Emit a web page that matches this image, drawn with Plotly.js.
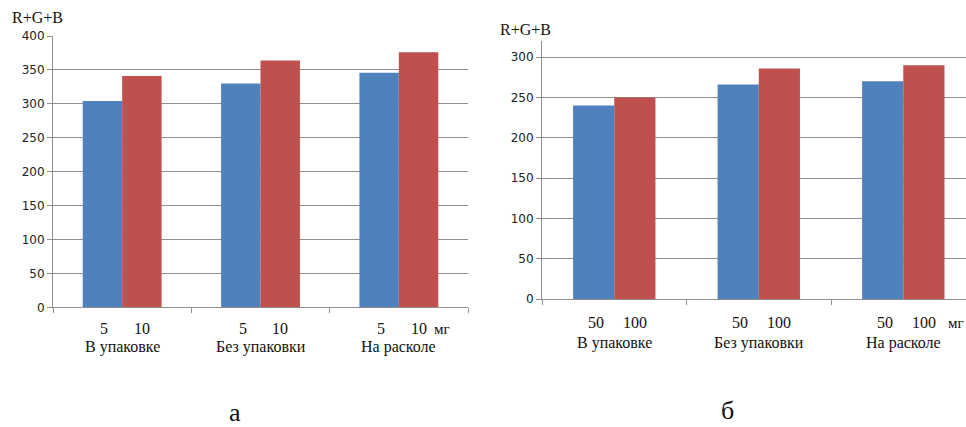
<!DOCTYPE html>
<html>
<head>
<meta charset="utf-8">
<script src="https://cdn.plot.ly/plotly-3.0.1.min.js"></script>
<style>html,body{margin:0;padding:0;background:#fff;}#chart{width:966px;height:427px;}</style>
</head>
<body>
<div id="chart"></div>
<script>
// ---- data ----
const groups = ["В упаковке", "Без упаковки", "На расколе"];
const dosesA = ["5", "10"];
const dosesB = ["50", "100"];
const seriesA5 = [304, 330, 346];
const seriesA10 = [341, 364, 376];
const seriesB50 = [240, 266, 270];
const seriesB100 = [250, 286, 290];
const yTitle = "R+G+B";
const unit = "мг";
const panelLabels = ["а", "б"];

const BLUE = "#4F81BD", RED = "#C0504D", GRID = "#8f8f8f";
const W = 966, H = 427;
const BARGAP = 0.43;
const off = (1 - BARGAP) / 4; // half bar width in category units

const idx = groups.map((g, i) => i);
const traces = [
  {type: "bar", x: idx, y: seriesA5, marker: {color: BLUE}, xaxis: "x", yaxis: "y", hoverinfo: "y"},
  {type: "bar", x: idx, y: seriesA10, marker: {color: RED}, xaxis: "x", yaxis: "y", hoverinfo: "y"},
  {type: "bar", x: idx, y: seriesB50, marker: {color: BLUE}, xaxis: "x2", yaxis: "y2", hoverinfo: "y"},
  {type: "bar", x: idx, y: seriesB100, marker: {color: RED}, xaxis: "x2", yaxis: "y2", hoverinfo: "y"}
];

const SERIF = "Liberation Serif";
const serif = {family: SERIF, size: 16, color: "#111"};
const tickFont = {family: "DejaVu Sans", size: 12, color: "#222"};

function xAxis(domain, range) {
  return {
    domain: domain, range: range, type: "linear",
    showgrid: false, zeroline: false,
    showline: true, linecolor: GRID, linewidth: 1,
    tickmode: "array", tickvals: [-0.5, 0.5, 1.5, 2.5], ticktext: ["", "", "", ""],
    ticks: "outside", ticklen: 5, tickcolor: GRID, showticklabels: false,
    fixedrange: true
  };
}
function yAxis(domain, range, anchor) {
  return {
    domain: domain, range: range, anchor: anchor,
    tick0: 0, dtick: 50,
    showgrid: true, gridcolor: GRID, gridwidth: 1,
    zeroline: false, showline: true, linecolor: GRID, linewidth: 1,
    ticks: "outside", ticklen: 5, tickcolor: GRID,
    tickfont: tickFont, fixedrange: true
  };
}

const ann = [];
function subLabels(xref, yPix, doses, groupY) {
  idx.forEach(i => {
    ann.push({xref: xref, yref: "paper", x: i - off, xshift: 2, y: (H - yPix) / H, text: doses[0],
      showarrow: false, xanchor: "center", yanchor: "middle", font: serif});
    ann.push({xref: xref, yref: "paper", x: i + off, y: (H - yPix) / H, text: doses[1],
      showarrow: false, xanchor: "center", yanchor: "middle", font: serif});
    ann.push({xref: xref, yref: "paper", x: i, y: (H - groupY) / H, text: groups[i],
      showarrow: false, xanchor: "center", yanchor: "middle", font: serif});
  });
}
subLabels("x", 328, dosesA, 347);
subLabels("x2", 322, dosesB, 343);
ann.push({xref: "x", yref: "paper", x: 2 + off, xshift: 13, y: (H - 329) / H, text: unit,
  showarrow: false, xanchor: "left", yanchor: "middle", font: {family: SERIF, size: 15, color: "#111"}});
ann.push({xref: "paper", yref: "paper", x: 1, y: (H - 323) / H, text: unit,
  showarrow: false, xanchor: "right", yanchor: "middle", font: {family: SERIF, size: 15, color: "#111"}});
ann.push({xref: "paper", yref: "paper", x: 10 / W, y: (H - 17) / H, text: yTitle,
  showarrow: false, xanchor: "left", yanchor: "middle", font: serif});
ann.push({xref: "paper", yref: "paper", x: 498 / W, y: (H - 30) / H, text: yTitle,
  showarrow: false, xanchor: "left", yanchor: "middle", font: serif});
ann.push({xref: "paper", yref: "paper", x: 235 / W, y: (H - 412) / H, text: panelLabels[0],
  showarrow: false, xanchor: "center", yanchor: "middle", font: {family: SERIF, size: 26, color: "#111"}});
ann.push({xref: "paper", yref: "paper", x: 727 / W, y: (H - 410) / H, text: panelLabels[1],
  showarrow: false, xanchor: "center", yanchor: "middle", font: {family: SERIF, size: 26, color: "#111"}});

const layout = {
  width: W, height: H,
  margin: {l: 0, r: 0, t: 0, b: 0},
  paper_bgcolor: "#fff", plot_bgcolor: "#fff",
  showlegend: false, barmode: "group", bargap: BARGAP, bargroupgap: 0,
  xaxis: xAxis([53 / W, 468 / W], [-0.5, 2.5]),
  yaxis: yAxis([(H - 307.3) / H, (H - 36) / H], [0, 400], "x"),
  xaxis2: Object.assign(xAxis([542 / W, 1], [-0.5, 2.434]), {anchor: "y2"}),
  yaxis2: yAxis([(H - 299) / H, (H - 41) / H], [0, 320], "x2"),
  annotations: ann
};
layout.xaxis.anchor = "y";

Plotly.newPlot("chart", traces, layout, {displayModeBar: false, staticPlot: true});
</script>
</body>
</html>
